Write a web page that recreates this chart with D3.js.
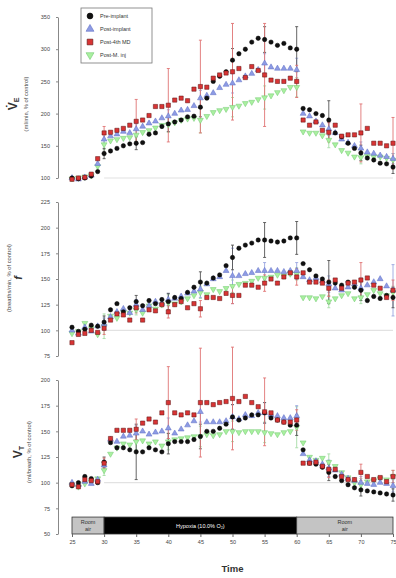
<!DOCTYPE html>
<html>
<head>
<meta charset="utf-8">
<script src="https://cdnjs.cloudflare.com/ajax/libs/d3/7.8.5/d3.min.js"></script>
<style>
body { margin: 0; background: #fff; }
svg { display: block; font-family: 'Liberation Sans', Arial, sans-serif; }
</style>
</head>
<body>
<div id="chart"></div>
<script>
// minutes of the protocol
var minutes = [25, 26, 27, 28, 29, 30, 31, 32, 33, 34, 35, 36, 37, 38, 39, 40, 41, 42, 43, 44,
    45, 46, 47, 48, 49, 50, 51, 52, 53, 54, 55, 56, 57, 58, 59, 60, 61, 62, 63, 64,
    65, 66, 67, 68, 69, 70, 71, 72, 73, 74, 75];
var errMinutes = [30, 35, 40, 45, 50, 55, 60, 65, 70, 75];
var seriesNames = ['Pre-implant', 'Post-implant', 'Post-4th MD', 'Post-M. inj'];

///////////// VE
var vePre = [100, 99, 100, 103, 110, 138, 142, 146, 150, 153, 154, 155, 168, 170, 180, 184, 187, 190, 195, 196,
    210, 224, 250, 258, 265, 283, 293, 300, 311, 317, 315, 311, 306, 309, 302, 300, 208, 206, 200, 197,
    190, 170, 164, 154, 146, 139, 131, 128, 123, 122, 117];
var vePost = [100, 98, 101, 104, 122, 160, 165, 168, 172, 170, 176, 180, 185, 188, 193, 196, 200, 205, 206, 212,
    224, 228, 232, 240, 245, 247, 252, 258, 262, 268, 278, 272, 270, 270, 270, 268, 200, 196, 188, 182,
    176, 170, 160, 155, 150, 146, 140, 138, 135, 133, 130];
var veMD = [98, 100, 101, 106, 130, 170, 171, 174, 177, 182, 188, 190, 197, 211, 211, 213, 221, 224, 220, 238,
    242, 241, 255, 260, 263, 265, 270, 256, 273, 267, 260, 252, 250, 250, 255, 250, 190, 182, 187, 174,
    171, 182, 165, 167, 167, 170, 177, 154, 154, 150, 154];
var veInj = [99, 100, 102, 104, 118, 152, 158, 160, 162, 163, 167, 171, 174, 178, 182, 183, 186, 190, 192, 193,
    190, 196, 202, 205, 207, 210, 212, 216, 218, 222, 225, 228, 233, 236, 241, 241, 172, 170, 170, 166,
    159, 152, 143, 139, 133, 132, 134, 133, 133, 131, 128];
var vePreErr = [8, 10, 12, 15, 18, 20, 35, 30, 12, 10];
var vePostErr = [8, 8, 10, 12, 15, 15, 18, 10, 10, 8];
var veMDErr = [10, 34, 57, 72, 75, 80, 25, 15, 45, 40];
var veInjErr = [8, 10, 12, 20, 15, 18, 15, 12, 10, 10];
var veTicks = [100, 150, 200, 250, 300, 350];

///////////// f
var fPre = [103, 99, 101, 105, 104, 108, 120, 126, 118, 122, 128, 124, 129, 126, 130, 128, 132, 131, 137, 142,
    147, 146, 151, 154, 163, 171, 180, 183, 185, 188, 188, 187, 186, 187, 190, 190, 165, 159, 153, 150,
    147, 146, 144, 147, 142, 139, 129, 133, 131, 134, 132];
var fPost = [100, 97, 103, 99, 104, 106, 113, 118, 121, 117, 125, 120, 124, 128, 126, 130, 131, 133, 136, 138,
    140, 145, 150, 152, 158, 153, 153, 155, 156, 158, 158, 158, 158, 157, 158, 158, 152, 149, 151, 148,
    145, 141, 139, 142, 145, 141, 144, 147, 150, 143, 139];
var fMD = [88, 96, 97, 100, 98, 102, 110, 116, 115, 110, 122, 110, 120, 119, 125, 118, 125, 128, 122, 126,
    121, 132, 132, 131, 136, 134, 134, 144, 144, 142, 146, 150, 146, 152, 156, 152, 156, 147, 147, 146,
    141, 149, 141, 146, 147, 149, 151, 144, 141, 132, 139];
var fInj = [97, 99, 107, 102, 96, 104, 114, 112, 118, 117, 120, 117, 124, 121, 125, 127, 126, 128, 131, 134,
    137, 135, 140, 138, 141, 143, 145, 146, 148, 151, 151, 152, 154, 153, 155, 155, 132, 132, 131, 133,
    128, 131, 134, 136, 131, 132, 135, 139, 136, 134, 137];
var fPreErr = [6, 6, 8, 10, 12, 17, 16, 21, 10, 10];
var fPostErr = [6, 5, 6, 8, 27, 8, 8, 8, 10, 25];
var fMDErr = [6, 5, 6, 8, 8, 8, 8, 8, 17, 10];
var fInjErr = [12, 5, 8, 6, 6, 6, 6, 6, 6, 6];
var fTicks = [75, 100, 125, 150, 175, 200, 225];

///////////// VT
var vtPre = [97, 100, 106, 104, 100, 120, 139, 134, 134, 132, 130, 130, 134, 132, 130, 138, 140, 140, 140, 142,
    145, 150, 150, 153, 157, 164, 161, 163, 166, 166, 168, 163, 161, 159, 156, 156, 132, 119, 118, 115,
    110, 106, 102, 98, 95, 93, 92, 91, 90, 89, 88];
var vtPost = [100, 98, 101, 99, 103, 117, 142, 140, 145, 146, 148, 150, 147, 149, 150, 153, 148, 152, 156, 160,
    169, 159, 159, 159, 160, 164, 162, 166, 165, 168, 168, 166, 165, 163, 163, 165, 128, 122, 121, 118,
    114, 112, 108, 104, 102, 100, 99, 98, 100, 99, 97];
var vtMD = [98, 96, 103, 102, 101, 119, 143, 151, 151, 151, 152, 158, 162, 159, 168, 178, 168, 166, 168, 166,
    178, 178, 176, 178, 179, 182, 179, 184, 178, 174, 169, 168, 161, 159, 159, 161, 119, 119, 120, 116,
    113, 113, 106, 103, 103, 110, 106, 103, 105, 101, 106];
var vtInj = [98, 96, 99, 101, 104, 112, 128, 134, 138, 137, 140, 141, 138, 140, 136, 140, 142, 143, 144, 145,
    145, 147, 146, 147, 150, 150, 149, 150, 150, 150, 149, 148, 147, 149, 150, 154, 139, 125, 122, 124,
    120, 116, 110, 105, 100, 98, 101, 102, 104, 103, 106];
var vtPreErr = [5, 27, 10, 12, 12, 10, 10, 8, 6, 6];
var vtPostErr = [5, 8, 10, 10, 12, 10, 10, 8, 6, 6];
var vtMDErr = [5, 10, 35, 53, 50, 33, 10, 8, 8, 6];
var vtInjErr = [5, 8, 8, 10, 10, 10, 20, 8, 6, 6];
var vtTicks = [50, 75, 100, 125, 150, 175, 200];

var xTicks = [25, 30, 35, 40, 45, 50, 55, 60, 65, 70, 75];
var phaseLabels = [['Room', 'air'], ['Hypoxia (10.0% O\u2082)'], ['Room', 'air']];
var phaseStart = [25, 30, 60];
var phaseEnd = [30, 60, 75];

var styles = [
    { type: d3.symbolCircle, size: 15, fill: '#111', stroke: '#000', bar: '#555', rot: 0 },
    { type: d3.symbolTriangle, size: 15, fill: '#8d9be4', stroke: '#5f6fc4', bar: '#9aa6e0', rot: 0 },
    { type: d3.symbolSquare, size: 18, fill: '#d83434', stroke: '#5a1010', bar: '#e07474', rot: 0 },
    { type: d3.symbolTriangle, size: 15, fill: '#aaf0a0', stroke: '#70c870', bar: '#a6dca6', rot: 180 }
];

var W = 396, H = 578;
var svg = d3.select('#chart').append('svg')
    .attr('width', W)
    .attr('height', H);

var x = d3.scaleLinear().domain([25, 75]).range([72, 393]);

makePanel({
    series: [veInj, vePost, vePre, veMD],
    errs: [veInjErr, vePostErr, vePreErr, veMDErr],
    order: [3, 1, 0, 2],
    ticks: veTicks, range: [178, 17],
    big: 'V\u0307', sub: 'E', unit: '(ml/min, % of control)',
    bigX: 17, unitX: 28, titleY: 104
});
makePanel({
    series: [fInj, fPost, fPre, fMD],
    errs: [fInjErr, fPostErr, fPreErr, fMDErr],
    order: [3, 1, 0, 2],
    ticks: fTicks, range: [356, 202],
    big: 'f', sub: '', unit: '(breaths/min, % of control)',
    bigX: 22, unitX: 11, titleY: 278
});
var vtY = makePanel({
    series: [vtInj, vtPost, vtPre, vtMD],
    errs: [vtInjErr, vtPostErr, vtPreErr, vtMDErr],
    order: [3, 1, 0, 2],
    ticks: vtTicks, range: [534, 380],
    big: 'V', sub: 'T', unit: '(ml/breath, % of control)',
    bigX: 22, unitX: 31, titleY: 452
});

///////////// PHASE BAR + X AXIS
var phases = svg.append('g');
phaseStart.forEach(function(s, i) {
    var hyp = i === 1;
    var x0 = x(s), x1 = x(phaseEnd[i]);
    var yTop = vtY(66.5), yBot = vtY(50);
    phases.append('rect')
        .attr('x', x0).attr('y', yTop)
        .attr('width', x1 - x0).attr('height', yBot - yTop)
        .attr('fill', hyp ? '#000' : '#c4c4c4')
        .attr('stroke', '#333')
        .attr('stroke-width', 0.8);
    var lines = phaseLabels[i];
    lines.forEach(function(t, j) {
        phases.append('text')
            .attr('x', (x0 + x1) / 2)
            .attr('y', (yTop + yBot) / 2 + (j - (lines.length - 1) / 2) * 6.5 + 2)
            .attr('text-anchor', 'middle')
            .attr('font-size', 5.5)
            .attr('fill', hyp ? '#fff' : '#333')
            .text(t);
    });
});

var xAxis = d3.axisBottom(x)
    .tickValues(xTicks)
    .tickSize(3)
    .tickPadding(3);
var gx = svg.append('g')
    .attr('transform', 'translate(0,' + vtY(50) + ')')
    .call(xAxis);
gx.select('.domain').remove();
gx.selectAll('.tick line').attr('stroke', '#666');
gx.selectAll('.tick text').attr('font-size', 5.5).attr('fill', '#444');

svg.append('text')
    .attr('x', x(50))
    .attr('y', 572)
    .attr('text-anchor', 'middle')
    .attr('font-size', 9.5)
    .attr('font-weight', 'bold')
    .attr('fill', '#333')
    .text('Time');

///////////// LEGEND
var legend = svg.append('g').attr('transform', 'translate(81,8)');
legend.append('rect')
    .attr('width', 71).attr('height', 55)
    .attr('fill', '#fff')
    .attr('stroke', '#777')
    .attr('stroke-width', 0.8);
seriesNames.forEach(function(name, i) {
    var st = styles[i];
    var row = legend.append('g').attr('transform', 'translate(9,' + (8 + i * 13) + ')');
    row.append('path')
        .attr('d', d3.symbol().type(st.type).size(st.size * 1.8)())
        .attr('transform', 'rotate(' + st.rot + ')')
        .attr('fill', st.fill)
        .attr('stroke', st.stroke)
        .attr('stroke-width', 0.6);
    row.append('text')
        .attr('x', 10).attr('y', 2)
        .attr('font-size', 5.5)
        .attr('fill', '#333')
        .text(name);
});


function makePanel(cfg) {
    var y = d3.scaleLinear()
        .domain([cfg.ticks[0], cfg.ticks[cfg.ticks.length - 1]])
        .range(cfg.range);
    var g = svg.append('g');

    // reference line at 100 %
    g.append('line')
        .attr('x1', x(30)).attr('x2', x(75))
        .attr('y1', y(100)).attr('y2', y(100))
        .attr('stroke', '#e2e2e2')
        .attr('stroke-width', 1.2);

    var yAxis = d3.axisLeft(y)
        .tickValues(cfg.ticks)
        .tickSizeInner(2)
        .tickSizeOuter(0)
        .tickPadding(6);
    var gy = g.append('g')
        .attr('transform', 'translate(58,0)')
        .call(yAxis);
    gy.select('.domain').attr('stroke', '#888');
    gy.selectAll('.tick line').attr('stroke', '#888');
    gy.selectAll('.tick text').attr('font-size', 5.5).attr('fill', '#444');

    // titles
    var big = g.append('text')
        .attr('transform', 'translate(' + cfg.bigX + ',' + cfg.titleY + ') rotate(-90)')
        .attr('text-anchor', 'middle')
        .attr('font-size', cfg.sub ? 12 : 11)
        .attr('font-weight', 'bold')
        .attr('font-style', cfg.sub ? 'normal' : 'italic')
        .attr('fill', '#333');
    big.append('tspan').text(cfg.big);
    if (cfg.sub) {
        big.append('tspan')
            .attr('font-size', 7)
            .attr('dy', 2)
            .text(cfg.sub);
    }
    g.append('text')
        .attr('transform', 'translate(' + cfg.unitX + ',' + cfg.titleY + ') rotate(-90)')
        .attr('text-anchor', 'middle')
        .attr('font-size', 5.8)
        .attr('fill', '#444')
        .text(cfg.unit);

    // error bars under the markers
    cfg.series.forEach(function(vals, k) {
        var st = styles[cfg.order[k]];
        var errs = cfg.errs[k];
        errMinutes.forEach(function(t, i) {
            var e = errs[i];
            if (!e) return;
            var v = vals[minutes.indexOf(t)];
            var cx = x(t);
            var eg = g.append('g')
                .attr('stroke', st.bar)
                .attr('stroke-width', 0.9);
            eg.append('line')
                .attr('x1', cx).attr('x2', cx)
                .attr('y1', y(v - e)).attr('y2', y(v + e));
            [v - e, v + e].forEach(function(b) {
                eg.append('line')
                    .attr('x1', cx - 1.5).attr('x2', cx + 1.5)
                    .attr('y1', y(b)).attr('y2', y(b));
            });
        });
    });

    cfg.series.forEach(function(vals, k) {
        var st = styles[cfg.order[k]];
        var sym = d3.symbol().type(st.type).size(st.size)();
        g.append('g').selectAll('path')
            .data(vals)
            .enter()
            .append('path')
            .attr('d', sym)
            .attr('transform', function(d, i) {
                return 'translate(' + x(minutes[i]) + ',' + y(d) + ') rotate(' + st.rot + ')';
            })
            .attr('fill', st.fill)
            .attr('stroke', st.stroke)
            .attr('stroke-width', 0.5);
    });

    return y;
}
</script>
</body>
</html>
